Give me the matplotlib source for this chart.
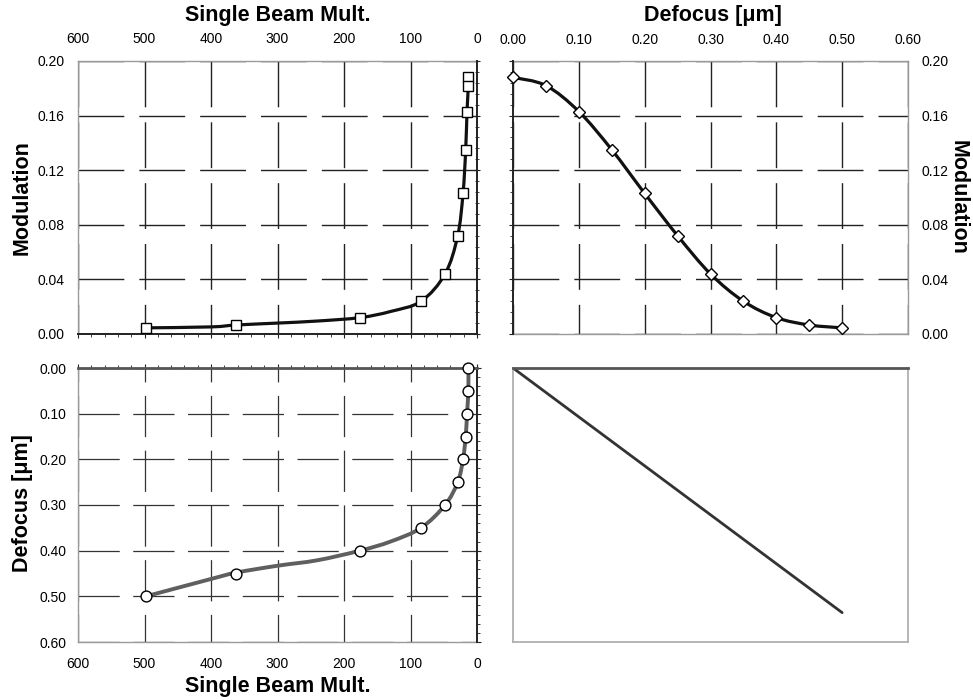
import numpy as np
import matplotlib
matplotlib.use("Agg")
import matplotlib.pyplot as plt
from matplotlib.path import Path
from matplotlib.patches import PathPatch
from matplotlib.ticker import MultipleLocator, FormatStrFormatter

plt.rcParams['font.family'] = ['Liberation Sans', 'DejaVu Sans']

# marker values (one per defocus step)
defocus = [0.00, 0.05, 0.10, 0.15, 0.20, 0.25, 0.30, 0.35, 0.40, 0.45, 0.50]
modulation = [0.188, 0.182, 0.163, 0.135, 0.103, 0.072, 0.044, 0.024, 0.012, 0.0066, 0.0045]
beam_mult = [13, 13, 15, 17, 21, 29, 48, 84, 176, 362, 498]

# denser curve (line without markers)
curve_mult = [13, 13, 15, 17, 21, 29, 48, 84, 130, 176, 240, 300, 362, 400, 498]
curve_mod = [0.188, 0.182, 0.163, 0.135, 0.103, 0.072, 0.044, 0.024, 0.0165, 0.012,
             0.0095, 0.008, 0.0066, 0.0052, 0.0045]
curve_defocus = [0.00, 0.05, 0.10, 0.15, 0.20, 0.25, 0.30, 0.35, 0.38, 0.40,
                 0.421, 0.433, 0.448, 0.462, 0.50]

W, H = 973, 700
DARK = '#222222'
GRAY = '#9a9a9a'
TICK_FS = 10


def smooth_line(ax, x, y, **kw):
    # excel style smoothed line: bezier segments through the points
    pts = np.column_stack([x, y]).astype(float)
    n = len(pts)
    verts = [pts[0]]
    codes = [Path.MOVETO]
    for i in range(n - 1):
        p0 = pts[max(i - 1, 0)]
        p1 = pts[i]
        p2 = pts[i + 1]
        p3 = pts[min(i + 2, n - 1)]
        verts += [p1 + (p2 - p0) / 6, p2 - (p3 - p1) / 6, p2]
        codes += [Path.CURVE4] * 3
    ax.add_patch(PathPatch(Path(verts, codes), fill=False, capstyle='round',
                           joinstyle='round', **kw))


def px_axes(x0, y0, x1, y1):
    return fig.add_axes([x0 / W, 1 - y1 / H, (x1 - x0) / W, (y1 - y0) / H])


def dashed_grid(ax, length_x, length_y, color=DARK, lw=1.0):
    # long dashes with short gaps, like the original
    on, off = 33.0, 10.8
    per = on + off
    offy = (on - length_y * 0.72) % per
    ax.grid(axis='x', which='major', color=color, lw=lw, linestyle=(offy, (on, off)))
    ax.grid(axis='y', which='major', color=color, lw=lw, linestyle=(0, (on, off)))


def style_spines(ax, dark):
    for side, sp in ax.spines.items():
        if side in dark:
            sp.set_color(DARK)
            sp.set_linewidth(1.4)
            sp.set_zorder(3)
        else:
            sp.set_color(GRAY)
            sp.set_linewidth(1.0)


fig = plt.figure(figsize=(9.73, 7.00), dpi=100)

label_kw = dict(fontsize=15.5, fontweight='bold')

# ---- top left: modulation vs single beam mult
ax1 = px_axes(78, 61, 477, 334)
ax1.set_xlim(600, 0)
ax1.set_ylim(0, 0.2)
ax1.xaxis.set_major_locator(MultipleLocator(100))
ax1.xaxis.set_minor_locator(MultipleLocator(20))
ax1.yaxis.set_major_locator(MultipleLocator(0.04))
ax1.yaxis.set_minor_locator(MultipleLocator(0.008))
ax1.yaxis.set_major_formatter(FormatStrFormatter('%.2f'))
ax1.tick_params(axis='x', which='both', bottom=True, top=False, labelbottom=False,
                labeltop=True, direction='out', color=DARK)
ax1.tick_params(axis='x', which='major', length=3, pad=8.0, labelsize=TICK_FS)
ax1.tick_params(axis='x', which='minor', length=2.5)
ax1.tick_params(axis='y', which='both', left=False, right=True, labelleft=True,
                labelright=False, direction='inout', color=DARK)
ax1.tick_params(axis='y', which='major', length=5, pad=7, labelsize=TICK_FS)
ax1.tick_params(axis='y', which='minor', length=3.5)
style_spines(ax1, ['bottom', 'right'])
dashed_grid(ax1, 399, 273)
smooth_line(ax1, curve_mult, curve_mod, color='#111111', lw=2.3, zorder=4)
ax1.plot(beam_mult, modulation, ls='none', marker='s', ms=7.3, mfc='white',
         mec='black', mew=1.0, zorder=5, clip_on=False)
ax1.xaxis.set_label_position('top')
ax1.set_xlabel('Single Beam Mult.', va='center', **label_kw)
ax1.xaxis.set_label_coords(0.5, 1.168)
ax1.set_ylabel('Modulation', va='center', **label_kw)
ax1.yaxis.set_label_coords(-0.14, 0.5)

# ---- top right: modulation vs defocus
ax2 = px_axes(513, 61, 908, 334)
ax2.set_xlim(0, 0.6)
ax2.set_ylim(0, 0.2)
ax2.xaxis.set_major_locator(MultipleLocator(0.1))
ax2.xaxis.set_major_formatter(FormatStrFormatter('%.2f'))
ax2.yaxis.set_major_locator(MultipleLocator(0.04))
ax2.yaxis.set_minor_locator(MultipleLocator(0.008))
ax2.yaxis.set_major_formatter(FormatStrFormatter('%.2f'))
ax2.tick_params(axis='x', which='both', bottom=False, top=False, labelbottom=False,
                labeltop=True, length=0, pad=10.2, labelsize=TICK_FS)
ax2.tick_params(axis='y', which='both', left=True, right=False, labelleft=False,
                labelright=True, direction='out', color=DARK)
ax2.tick_params(axis='y', which='major', length=3, pad=7, labelsize=TICK_FS)
ax2.tick_params(axis='y', which='minor', length=2.5)
style_spines(ax2, ['left'])
dashed_grid(ax2, 395, 273)
smooth_line(ax2, defocus, modulation, color='#111111', lw=2.3, zorder=4)
ax2.plot(defocus, modulation, ls='none', marker='D', ms=6.2, mfc='white',
         mec='black', mew=1.0, zorder=5, clip_on=False)
ax2.xaxis.set_label_position('top')
ax2.set_xlabel('Defocus [\u03bcm]', va='center', **label_kw)
ax2.xaxis.set_label_coords(0.506, 1.168)
ax2.yaxis.set_label_position('right')
ax2.set_ylabel('Modulation', rotation=270, va='center', **label_kw)
ax2.yaxis.set_label_coords(1.127, 0.5)

# ---- bottom left: defocus vs single beam mult
ax3 = px_axes(78, 368, 477, 642)
ax3.set_xlim(600, 0)
ax3.set_ylim(0.6, 0)
ax3.xaxis.set_major_locator(MultipleLocator(100))
ax3.xaxis.set_minor_locator(MultipleLocator(20))
ax3.yaxis.set_major_locator(MultipleLocator(0.1))
ax3.yaxis.set_minor_locator(MultipleLocator(0.02))
ax3.yaxis.set_major_formatter(FormatStrFormatter('%.2f'))
ax3.tick_params(axis='x', which='both', bottom=False, top=True, labelbottom=True,
                labeltop=False, direction='out', color=DARK)
ax3.tick_params(axis='x', which='major', length=3, pad=8.0, labelsize=TICK_FS)
ax3.tick_params(axis='x', which='minor', length=2.5)
ax3.tick_params(axis='y', which='both', left=False, right=True, labelleft=True,
                labelright=False, direction='out', color=DARK)
ax3.tick_params(axis='y', which='major', length=3, pad=5.5, labelsize=TICK_FS)
ax3.tick_params(axis='y', which='minor', length=2.5)
style_spines(ax3, ['top', 'right'])
ax3.spines['top'].set_color('#555555')
ax3.spines['top'].set_linewidth(2.0)
dashed_grid(ax3, 399, 274, color='#333333', lw=0.9)
smooth_line(ax3, curve_mult, curve_defocus, color='#5f5f5f', lw=2.8, zorder=4)
ax3.plot(beam_mult, defocus, ls='none', marker='o', ms=7.8, mfc='white',
         mec='black', mew=1.0, zorder=5, clip_on=False)
ax3.set_xlabel('Single Beam Mult.', va='center', **label_kw)
ax3.xaxis.set_label_coords(0.5, -0.164)
ax3.set_ylabel('Defocus [\u03bcm]', va='center', **label_kw)
ax3.yaxis.set_label_coords(-0.14, 0.507)

# ---- bottom right: defocus vs defocus
ax4 = px_axes(513, 368, 908, 642)
ax4.set_xlim(0, 0.6)
ax4.set_ylim(0.56, 0)
ax4.set_xticks([])
ax4.set_yticks([])
style_spines(ax4, [])
for sp in ax4.spines.values():
    sp.set_color('#b0b0b0')
    sp.set_linewidth(1.3)
ax4.spines['top'].set_color('#555555')
ax4.spines['top'].set_linewidth(2.0)
ax4.plot(defocus, defocus, color='#333333', lw=2.0, solid_capstyle='round')

fig.savefig('out.png', dpi=100)
